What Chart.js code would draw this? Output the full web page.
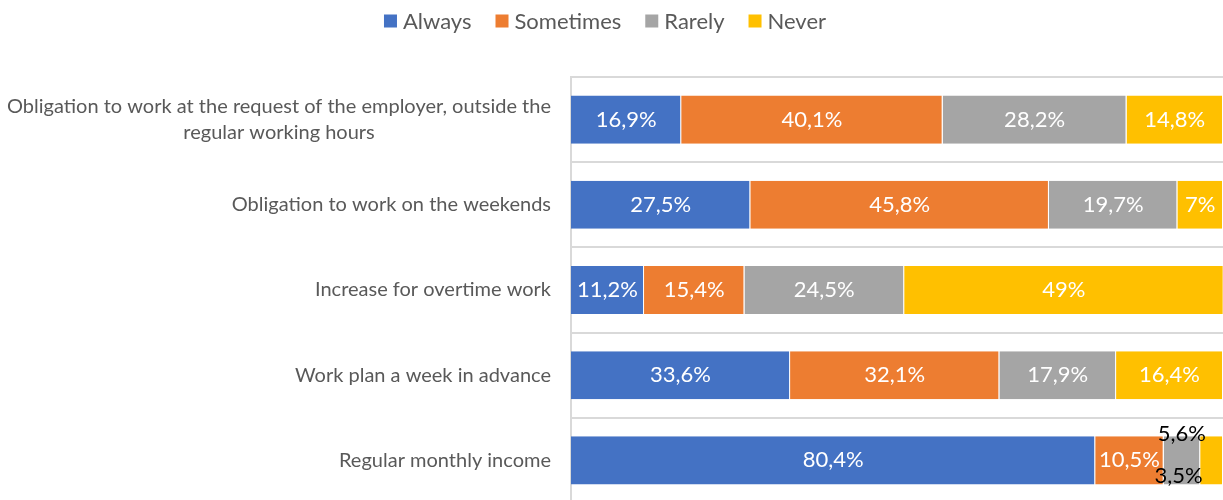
<!DOCTYPE html>
<html>
<head>
<meta charset="utf-8">
<script src="https://cdn.jsdelivr.net/npm/chart.js@4"></script>
<style>
  html, body { margin: 0; padding: 0; background: #fff; overflow: hidden; }
  #wrap { width: 1223px; height: 503px; position: relative; }
</style>
</head>
<body>
<div id="wrap"><canvas id="grafico"></canvas></div>
<script>
const categorias = [
    ['Obligation to work at the request of the employer, outside the', 'regular working hours'],
    'Obligation to work on the weekends',
    'Increase for overtime work',
    'Work plan a week in advance',
    'Regular monthly income'
];
const series = ['Always', 'Sometimes', 'Rarely', 'Never'];
const always = [16.9, 27.5, 11.2, 33.6, 80.4];
const sometimes = [40.1, 45.8, 15.4, 32.1, 10.5];
const rarely = [28.2, 19.7, 24.5, 17.9, 5.6];
const never = [14.8, 7, 49, 16.4, 3.5];
const colores = ['#4472C4', '#ED7D31', '#A5A5A5', '#FFC000'];

const FUENTE = 'Lato, "Open Sans", sans-serif';
const GRIS_TEXTO = '#595959';

const fmt = v => String(v).replace('.', ',') + '%';

// === Etiquetas dentro de las barras ===
const etiquetas = {
    id: 'etiquetas',
    afterDatasetsDraw(chart) {
        const ctx = chart.ctx;
        ctx.save();
        ctx.font = '22px ' + FUENTE;
        ctx.textAlign = 'center';
        ctx.textBaseline = 'middle';
        chart.data.datasets.forEach((ds, d) => {
            chart.getDatasetMeta(d).data.forEach((bar, i) => {
                let x = (bar.x + bar.base) / 2;
                let y = bar.y;
                ctx.fillStyle = '#fff';
                // ultima fila: los dos tramos finos llevan la etiqueta fuera, en negro
                if (i === 4 && d === 2) { y -= 26; ctx.fillStyle = '#000'; }
                if (i === 4 && d === 3) { x -= 33; y += 16; ctx.fillStyle = '#000'; }
                ctx.fillText(fmt(ds.data[i]), x, y);
            });
        });
        ctx.restore();
    }
};

// === Nombres de categoria (bloque alineado a la derecha, lineas centradas) ===
const ejeY = {
    id: 'ejeY',
    afterDraw(chart) {
        const ctx = chart.ctx;
        const escala = chart.scales.y;
        ctx.save();
        ctx.font = '20px ' + FUENTE;
        ctx.fillStyle = GRIS_TEXTO;
        ctx.textAlign = 'center';
        ctx.textBaseline = 'middle';
        chart.data.labels.forEach((lab, i) => {
            const lineas = Array.isArray(lab) ? lab : [lab];
            const ancho = Math.max(...lineas.map(l => ctx.measureText(l).width));
            const cx = chart.chartArea.left - 20 - ancho / 2;
            const cy = escala.getPixelForValue(i);
            lineas.forEach((l, k) => {
                ctx.fillText(l, cx, cy + (k - (lineas.length - 1) / 2) * 26);
            });
        });
        ctx.restore();
    }
};

// === Leyenda arriba ===
const leyenda = {
    id: 'leyenda',
    afterDraw(chart) {
        const ctx = chart.ctx;
        ctx.save();
        ctx.font = '22px ' + FUENTE;
        ctx.textBaseline = 'middle';
        ctx.textAlign = 'left';
        const caja = 13, hueco = 6, sep = 24, y = 21;
        const items = chart.data.datasets.map(ds => ({
            texto: ds.label, color: ds.backgroundColor, w: ctx.measureText(ds.label).width
        }));
        const total = items.reduce((s, it) => s + caja + hueco + it.w, 0) + sep * (items.length - 1);
        let x = 605 - total / 2;
        items.forEach(it => {
            ctx.fillStyle = it.color;
            ctx.fillRect(x, y - caja / 2, caja, caja);
            ctx.fillStyle = GRIS_TEXTO;
            ctx.fillText(it.texto, x + caja + hueco, y + 1);
            x += caja + hueco + it.w + sep;
        });
        ctx.restore();
    }
};

const valores = [always, sometimes, rarely, never];

new Chart(document.getElementById('grafico'), {
    type: 'bar',
    data: {
        labels: categorias,
        datasets: series.map((nombre, k) => ({
            label: nombre,
            data: valores[k],
            backgroundColor: colores[k],
            borderColor: '#ffffff',
            borderWidth: { top: 0, bottom: 0, left: 0, right: 1 },
            borderSkipped: false,
            barPercentage: 0.565,
            categoryPercentage: 1
        }))
    },
    options: {
        indexAxis: 'y',
        responsive: true,
        maintainAspectRatio: false,
        animation: false,
        layout: { padding: { top: 77, right: 0, bottom: 0, left: 0 } },
        plugins: {
            legend: { display: false },
            tooltip: { enabled: false }
        },
        scales: {
            x: {
                stacked: true,
                display: false,
                min: 0,
                max: 100
            },
            y: {
                stacked: true,
                ticks: { display: false },
                grid: { color: '#d9d9d9', lineWidth: 2, drawTicks: false, offset: true },
                border: { display: true, color: '#d9d9d9', width: 2 },
                afterFit(scale) { scale.width = 571; }
            }
        }
    },
    plugins: [etiquetas, ejeY, leyenda]
});
</script>
</body>
</html>
